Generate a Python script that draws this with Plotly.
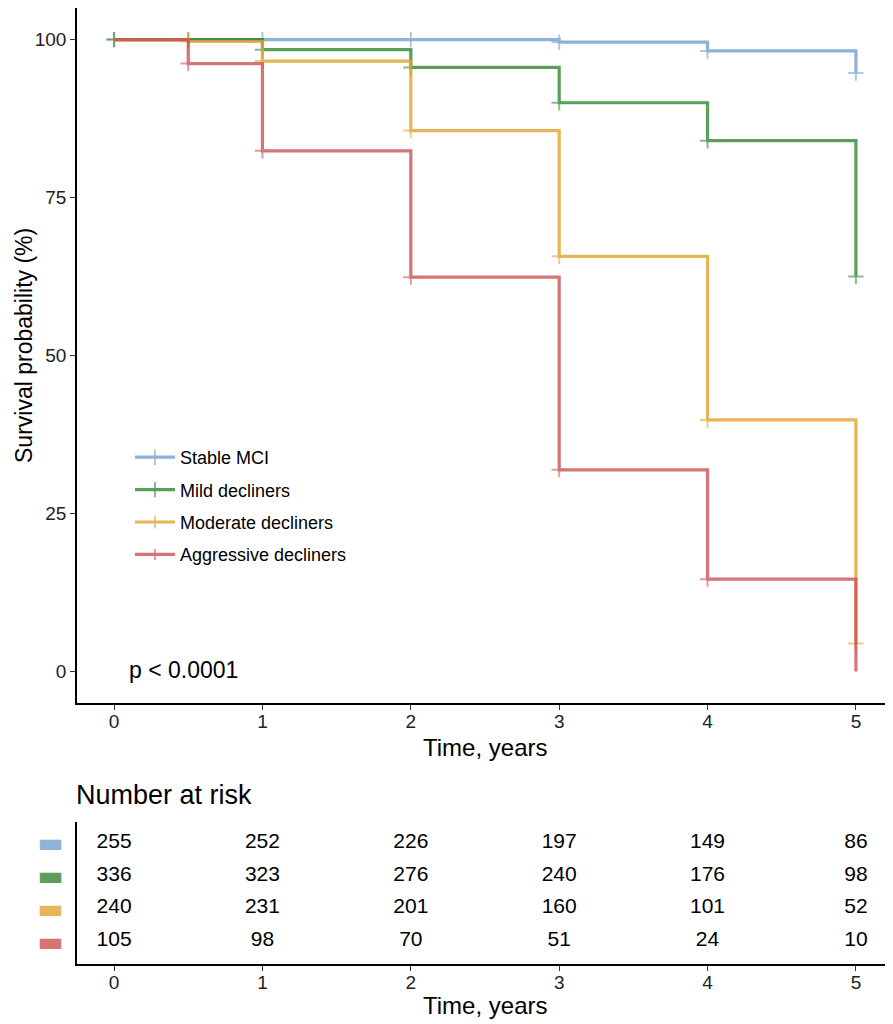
import plotly.graph_objects as go

# The page shows the figure with an 8px body margin; lay out in screen pixels.
OFF = 8
W, H = 893 - OFF, 1024 - OFF

groups = ["Stable MCI", "Mild decliners", "Moderate decliners", "Aggressive decliners"]
colors = ["#70A0CE", "#318631", "#E2A22E", "#CD5254"]
bar_colors = ["#8DB3D8", "#5A9E5A", "#E8B558", "#D77576"]

# Kaplan-Meier step points (time in years, survival in %)
times_stable = [0, 1, 2, 3, 4, 5]
surv_stable = [100, 100, 100, 99.6, 98.2, 94.7]
times_mild = [0, 0.5, 1, 2, 3, 4, 5]
surv_mild = [100, 100, 98.4, 95.6, 90.0, 84.0, 62.5]
times_mod = [0, 0.5, 1, 2, 3, 4, 5]
surv_mod = [100, 99.7, 96.6, 85.6, 65.7, 39.8, 4.4]
times_aggr = [0, 0.5, 1, 2, 3, 4, 5]
surv_aggr = [100, 96.2, 82.4, 62.4, 31.9, 14.6, 0]
# censor mark shown at each point? (1 = yes)
marks_stable = [1, 1, 1, 1, 1, 1]
marks_mild = [1, 1, 1, 1, 1, 1, 1]
marks_mod = [0, 1, 1, 1, 1, 1, 1]
marks_aggr = [0, 1, 1, 1, 1, 1, 0]

# Number at risk table
risk_times = [0, 1, 2, 3, 4, 5]
risk_stable = [255, 252, 226, 197, 149, 86]
risk_mild = [336, 323, 276, 240, 176, 98]
risk_mod = [240, 231, 201, 160, 101, 52]
risk_aggr = [105, 98, 70, 51, 24, 10]

x_ticks = [0, 1, 2, 3, 4, 5]
y_ticks = [0, 25, 50, 75, 100]

series = [
    (times_stable, surv_stable, marks_stable),
    (times_mild, surv_mild, marks_mild),
    (times_mod, surv_mod, marks_mod),
    (times_aggr, surv_aggr, marks_aggr),
]
risks = [risk_stable, risk_mild, risk_mod, risk_aggr]


def px_x(p):
    return (p - OFF) / W


def px_y(p):
    return 1 - (p - OFF) / H


FONT = "Liberation Sans"
fig = go.Figure()

for (t, s, m), name, c in zip(series, groups, colors):
    fig.add_trace(go.Scatter(
        x=t, y=s, name=name, mode="lines+markers",
        line=dict(color=c, width=3.2, shape="hv"),
        marker=dict(symbol="cross-thin", size=[11 if k else 0 for k in m],
                    line=dict(color=c, width=2)),
        opacity=0.8, legendgroup=name,
        xaxis="x", yaxis="y",
    ))

rows = [4, 3, 2, 1]
for r, vals in zip(rows, risks):
    fig.add_trace(go.Scatter(
        x=risk_times, y=[r] * len(vals), mode="text",
        text=[str(v) for v in vals], textposition="middle center",
        textfont=dict(family=FONT, size=21, color="black"),
        showlegend=False, xaxis="x2", yaxis="y2", hoverinfo="skip",
    ))

axis_common = dict(
    showline=True, linecolor="black", linewidth=1.6,
    ticks="outside", ticklen=5, tickwidth=1.4, tickcolor="#333333",
    showgrid=False, zeroline=False, automargin=False,
    tickfont=dict(family=FONT, size=19, color="#222222"),
)

fig.update_layout(
    width=W, height=H,
    margin=dict(l=0, r=0, t=0, b=0),
    paper_bgcolor="white", plot_bgcolor="white",
    font=dict(family=FONT, color="black"),
    xaxis=dict(domain=[px_x(77), 1], range=[-0.25, 5.25], ticklabelstandoff=-5,
               tickvals=x_ticks, anchor="y", **axis_common),
    yaxis=dict(domain=[px_y(703), 1], range=[-5, 105],
               tickvals=y_ticks, anchor="x", **axis_common),
    xaxis2=dict(domain=[px_x(77), 1], range=[-0.25, 5.25], ticklabelstandoff=-5,
                tickvals=x_ticks, anchor="y2", **axis_common),
    yaxis2=dict(domain=[px_y(964), px_y(822)], range=[0.3, 4.62],
                tickvals=rows,
                ticktext=[f'<span style="color:{c}">▬</span>' for c in bar_colors],
                anchor="x2", showline=True, linecolor="black", linewidth=1.6,
                ticks="", showgrid=False, zeroline=False, automargin=False,
                ticklabelstandoff=6,
                tickfont=dict(family="DejaVu Sans", size=28)),
    showlegend=True,
    legend=dict(x=px_x(130), y=px_y(439), xanchor="left", yanchor="top",
                bgcolor="rgba(0,0,0,0)", font=dict(family=FONT, size=18),
                tracegroupgap=6, itemwidth=40),
    annotations=[
        dict(text="Survival probability (%)", x=px_x(9), y=px_y(346),
             xanchor="left", yanchor="middle",
             xref="paper", yref="paper", showarrow=False, textangle=-90,
             font=dict(family=FONT, size=23)),
        dict(text="Time, years", x=px_x(485), y=px_y(747),
             xanchor="center", yanchor="middle",
             xref="paper", yref="paper", showarrow=False,
             font=dict(family=FONT, size=24)),
        dict(text="p < 0.0001", x=px_x(127), y=px_y(670),
             xanchor="left", yanchor="middle",
             xref="paper", yref="paper", showarrow=False,
             font=dict(family=FONT, size=23)),
        dict(text="Number at risk", x=px_x(74), y=px_y(795),
             xanchor="left", yanchor="middle",
             xref="paper", yref="paper", showarrow=False,
             font=dict(family=FONT, size=27)),
        dict(text="Time, years", x=px_x(485), y=px_y(1005),
             xanchor="center", yanchor="middle",
             xref="paper", yref="paper", showarrow=False,
             font=dict(family=FONT, size=24)),
    ],
)

fig.write_html("out.html")
